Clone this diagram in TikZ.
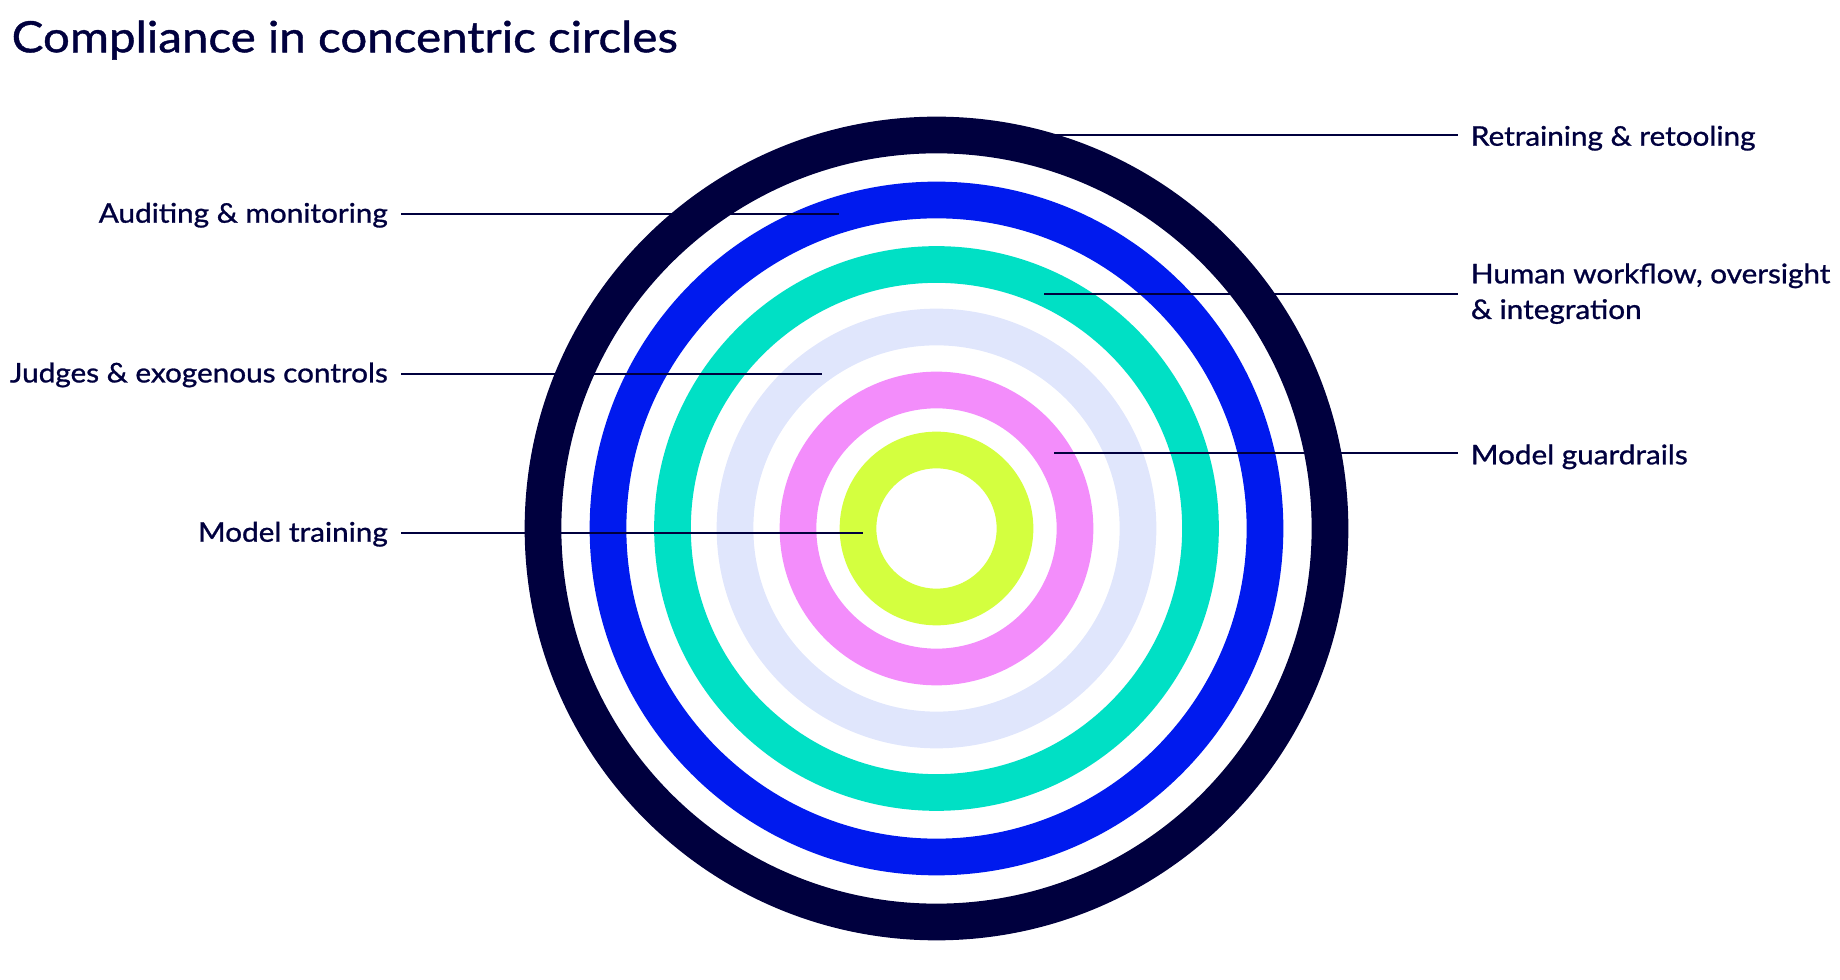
\documentclass[tikz,border=0pt]{standalone}
\usepackage{fontspec}
\setmainfont{Lato}[FakeStretch=1.1, FakeBold=1]
\usetikzlibrary{positioning}

\definecolor{ringnavy}{HTML}{00003E}
\definecolor{ringblue}{HTML}{001AEE}
\definecolor{ringteal}{HTML}{00E0C5}
\definecolor{ringlavender}{HTML}{E0E6FC}
\definecolor{ringpink}{HTML}{F38DFB}
\definecolor{ringlime}{HTML}{D4FF3F}

\begin{document}
\begin{tikzpicture}[x=1pt, y=1pt,
    ring/.style={line width=36.7pt},
    ringlabel/.style={text=ringnavy,
        font=\fontsize{27}{35.7}\selectfont,
        inner xsep=13pt, inner ysep=0pt,
        text depth=4.8pt,
        align=left},
    leftlabel/.style={ringlabel, anchor=east, text height=21.6pt},
    rightlabel/.style={ringlabel, anchor=west, text height=26.8pt},
    leadline/.style={draw=ringnavy, line width=2pt}]
    \path[use as bounding box] (0,0) rectangle (1840,980);

    % Add the title
        \node[anchor=base west,
              inner sep=0pt,
              text=ringnavy,
              font=\fontsize{43.2}{52}\selectfont] (title) at (11.5,927.7) {Compliance in concentric circles};

    % Add the rings
        \coordinate (centre) at (936.5,451.5);
        \foreach \r/\c in {393.5/ringnavy, 328.5/ringblue, 264/ringteal,
                           201.5/ringlavender, 138.5/ringpink, 78.5/ringlime}
            \draw[ring, draw=\c] (centre) circle[radius=\r pt];

    % Add the labels
        \node[rightlabel] (retool) at (1457.7,845.3) {Retraining \& retooling};
        \node[rightlabel,
              text height=54.8pt] (human) at (1457.7,686) {Human workflow, oversight\\\& integration};
        \node[rightlabel] (guard) at (1457.7,526.7) {Model guardrails};
        \node[leftlabel] (audit) at (401,765.7) {Auditing \& monitoring};
        \node[leftlabel] (judge) at (401,606) {Judges \& exogenous controls};
        \node[leftlabel] (train) at (401,446.7) {Model training};

    % Add the leader lines
        \coordinate (retool-end) at (1053,845.3);
        \coordinate (human-end) at (1044,686);
        \coordinate (guard-end) at (1054,526.7);
        \coordinate (audit-end) at (839,765.7);
        \coordinate (judge-end) at (822,606);
        \coordinate (train-end) at (862.7,446.7);

        \draw[leadline]
            (retool.west) -- (retool-end)
            (human.west) -- (human-end)
            (guard.west) -- (guard-end)
            (audit.east) -- (audit-end)
            (judge.east) -- (judge-end)
            (train.east) -- (train-end);
\end{tikzpicture}
\end{document}
